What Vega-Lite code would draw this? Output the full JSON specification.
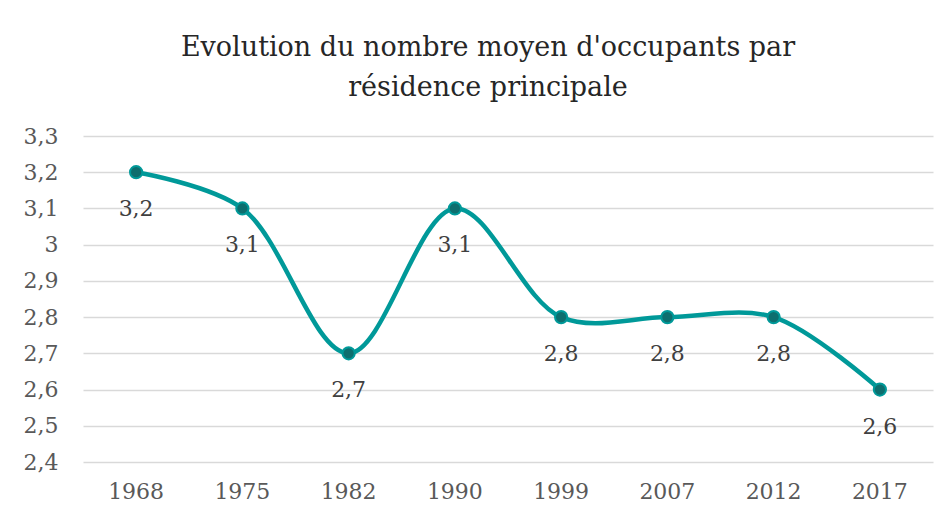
{
  "$schema": "https://vega.github.io/schema/vega-lite/v6.json",
  "autosize": "none",
  "width": 850,
  "height": 326,
  "padding": {"left": 83, "top": 136, "right": 19, "bottom": 63},
  "background": "white",
  "title": {
    "text": ["Evolution du nombre moyen d'occupants par", "résidence principale"],
    "font": "DejaVu Serif",
    "fontSize": 27,
    "fontWeight": "normal",
    "color": "#262626",
    "lineHeight": 40,
    "offset": 23,
    "dx": -20,
    "anchor": "middle"
  },
  "data": {
    "values": [
      {"annee": "1968", "valeur": 3.2},
      {"annee": "1975", "valeur": 3.1},
      {"annee": "1982", "valeur": 2.7},
      {"annee": "1990", "valeur": 3.1},
      {"annee": "1999", "valeur": 2.8},
      {"annee": "2007", "valeur": 2.8},
      {"annee": "2012", "valeur": 2.8},
      {"annee": "2017", "valeur": 2.6}
    ]
  },
  "encoding": {
    "x": {
      "field": "annee",
      "type": "ordinal",
      "sort": null,
      "scale": {"type": "band", "paddingInner": 0, "paddingOuter": 0},
      "axis": {
        "title": null,
        "labelAngle": 0,
        "domain": false,
        "ticks": false,
        "grid": false,
        "labelFont": "DejaVu Serif",
        "labelFontSize": 22,
        "labelColor": "#595959",
        "labelPadding": 19
      }
    },
    "y": {
      "field": "valeur",
      "type": "quantitative",
      "scale": {"domain": [2.4, 3.3], "nice": false, "zero": false},
      "axis": {
        "title": null,
        "values": [2.4, 2.5, 2.6, 2.7, 2.8, 2.9, 3.0, 3.1, 3.2, 3.3],
        "labelExpr": "replace(format(datum.value, '.2~f'), '.', ',')",
        "domain": false,
        "ticks": false,
        "grid": true,
        "gridColor": "#d9d9d9",
        "gridWidth": 1.5,
        "labelFont": "DejaVu Serif",
        "labelFontSize": 22,
        "labelColor": "#595959",
        "labelPadding": 25
      }
    }
  },
  "layer": [
    {
      "mark": {"type": "line", "interpolate": "catmull-rom", "color": "#009999", "strokeWidth": 4.5}
    },
    {
      "mark": {"type": "point", "shape": "circle", "filled": true, "size": 150, "fill": "#0d6e6e", "stroke": "#009999", "strokeWidth": 2, "opacity": 1}
    },
    {
      "mark": {"type": "text", "dy": 37, "baseline": "middle", "font": "DejaVu Serif", "fontSize": 22, "color": "#404040"},
      "encoding": {
        "text": {"field": "valeur", "type": "quantitative", "format": ".1f"}
      }
    }
  ],
  "config": {
    "view": {"stroke": null},
    "locale": {"number": {"decimal": ",", "thousands": " ", "grouping": [3], "currency": ["", " €"]}}
  }
}
